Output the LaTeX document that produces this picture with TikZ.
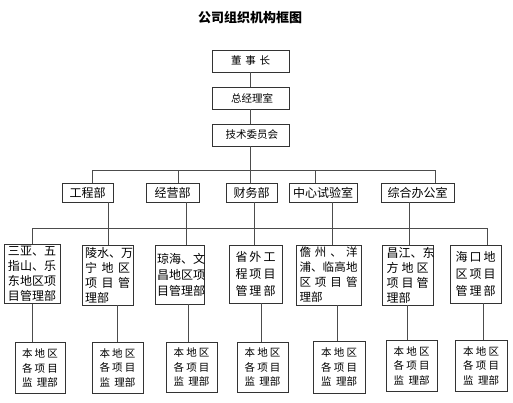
\documentclass[tikz,border=0pt]{standalone}
\usepackage{fontspec}
\setmainfont{Noto Sans CJK SC}
\makeatletter
\def\J#1{\leavevmode\hbox to\hsize{\J@a#1\relax}}
\def\J@a#1{#1\J@b}
\def\J@b#1{\ifx#1\relax\else\hfill#1\expandafter\J@b\fi}
\makeatother
\newcommand\JianLi{\leavevmode\hbox to\hsize{监\hfill 理部}}
\tikzset{
  box/.style={draw=black!80, line width=0.9pt, inner sep=0pt, anchor=center},
  topbox/.style={box, minimum width=77pt, minimum height=22pt, text width=39pt, align=left, font=\fontsize{10.5}{12}\selectfont},
  dept/.style={box, minimum height=19pt, font=\fontsize{12}{14}\selectfont},
  proj/.style={box, align=left, font=\fontsize{12}{15}\selectfont},
  subbox/.style={box, minimum width=51pt, minimum height=51pt, text width=36pt, align=left, font=\fontsize{10.5}{14.5}\selectfont},
  conn/.style={draw=black!70, line width=0.9pt},
}
\begin{document}
\begin{tikzpicture}[x=1pt,y=-1pt]
\fill[white] (0,0) rectangle (513,402);
\useasboundingbox (0,0) rectangle (513,402);
\node[font=\fontsize{13}{15}\selectfont\bfseries] (title) at (250,18) {公司组织机构框图};
\node[topbox] (b0) at (250.5,61) {\J{董事长}};
\node[topbox] (b1) at (250.5,98) {\J{总经理室}};
\node[topbox, text width=50pt] (b2) at (250.5,135) {\J{技术委员会}};
\node[dept, minimum width=51pt] (d1) at (87.5,192.5) {工程部};
\node[dept, minimum width=53pt] (d2) at (172.5,192.5) {经营部};
\node[dept, minimum width=51pt] (d3) at (251.5,192.5) {财务部};
\node[dept, minimum width=68pt] (d4) at (323,192.5) {中心试验室};
\node[dept, minimum width=73pt] (d5) at (417.5,192.5) {综合办公室};
\node[proj, minimum width=56pt, minimum height=59pt, text width=48pt] (p1) at (32,274) {\J{三亚、五}\\\J{指山、乐}\\\J{东地区项}\\\J{目管理部}};
\node[proj, minimum width=51pt, minimum height=60pt, text width=45pt] (p2) at (107.5,275) {\J{陵水、万}\\\J{宁地区}\\\J{项目管}\\理部};
\node[proj, minimum width=49pt, minimum height=59pt, text width=45pt, font=\fontsize{12}{16}\selectfont] (p3) at (179.5,274.5) {\J{琼海、文}\\\J{昌地区项}\\\J{目管理部}};
\node[proj, minimum width=53pt, minimum height=58pt, text width=40pt, font=\fontsize{12}{17}\selectfont] (p4) at (255.5,274) {\J{省外工}\\\J{程项目}\\\J{管理部}};
\node[proj, minimum width=65pt, minimum height=60pt, text width=58pt, font=\fontsize{11.5}{15}\selectfont] (p5) at (328.5,275) {\J{儋州、洋}\\\J{浦、临高地}\\\J{区项目管}\\理部};
\node[proj, minimum width=51pt, minimum height=60pt, text width=42pt] (p6) at (407.5,275) {\J{昌江、东}\\\J{方地区}\\\J{项目管}\\理部};
\node[proj, minimum width=51pt, minimum height=58pt, text width=40pt, font=\fontsize{12}{17}\selectfont] (p7) at (475.5,274) {\J{海口地}\\\J{区项目}\\\J{管理部}};
\node[subbox, minimum width=50pt] (q1) at (40,368) {\J{本地区}\\\J{各项目}\\\JianLi};
\node[subbox] (q2) at (117.5,367.5) {\J{本地区}\\\J{各项目}\\\JianLi};
\node[subbox, minimum height=50pt] (q3) at (191.5,367) {\J{本地区}\\\J{各项目}\\\JianLi};
\node[subbox, minimum height=50pt] (q4) at (262.5,367) {\J{本地区}\\\J{各项目}\\\JianLi};
\node[subbox, minimum width=52pt, minimum height=52pt] (q5) at (339,367) {\J{本地区}\\\J{各项目}\\\JianLi};
\node[subbox] (q6) at (411.5,365.5) {\J{本地区}\\\J{各项目}\\\JianLi};
\node[subbox, minimum width=52pt] (q7) at (481,365.5) {\J{本地区}\\\J{各项目}\\\JianLi};
\coordinate (busA) at (0,170);
\coordinate (busB) at (0,228);
\coordinate (u1) at (92,0); \coordinate (u2) at (178,0); \coordinate (u3) at (250,0);
\coordinate (u4) at (315,0); \coordinate (u5) at (435,0);
\coordinate (v1) at (108,0); \coordinate (v2) at (186,0); \coordinate (v3) at (254,0);
\coordinate (v4) at (332,0); \coordinate (v5) at (409,0);
\coordinate (w1) at (32,0); \coordinate (w7) at (487,0);
\coordinate (s1) at (32,0); \coordinate (s2) at (117,0); \coordinate (s3) at (188,0);
\coordinate (s4) at (261,0); \coordinate (s5) at (337,0); \coordinate (s6) at (407,0);
\coordinate (s7) at (483,0);
\draw[conn] (b0) -- (b1);
\draw[conn] (b1) -- (b2);
\draw[conn] (b2.south) -- (b2.south |- busA);
\draw[conn] (busA -| u1) -- (busA -| u5);
\foreach \i in {1,...,5} {
  \draw[conn] (busA -| u\i) -- (d\i.north -| u\i);
}
\foreach \i/\j in {1/2,2/3,3/4,4/5,5/6} {
  \draw[conn] (d\i.south -| v\i) -- (p\j.north -| v\i);
}
\draw[conn] (busB -| w1) -- (busB -| w7);
\draw[conn] (busB -| w1) -- (p1.north -| w1);
\draw[conn] (busB -| w7) -- (p7.north -| w7);
\foreach \i in {1,...,7} {
  \draw[conn] (p\i.south -| s\i) -- (q\i.north -| s\i);
}
\end{tikzpicture}
\end{document}
